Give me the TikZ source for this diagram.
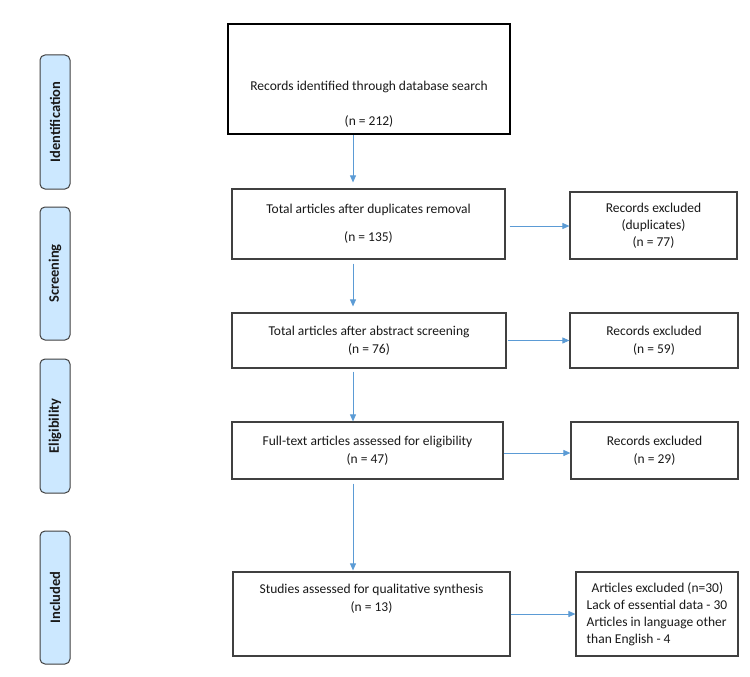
\documentclass[tikz,border=0pt]{standalone}
\usepackage{fontspec}
\setmainfont{Carlito}
\usetikzlibrary{arrows.meta,calc}
\definecolor{arrowblue}{HTML}{5B9BD5}
\definecolor{sidefill}{HTML}{CCE8FF}
\definecolor{boxline}{HTML}{404040}
\begin{document}
\begin{tikzpicture}[x=1pt,y=-1pt,
  box/.style={draw=boxline,line width=1.2pt,align=center,inner sep=0pt,
    font=\fontsize{13.5}{17}\selectfont,text=black!90},
  side/.style={draw=boxline,fill=sidefill,rounded corners=5pt,line width=1pt,
    minimum height=30pt,minimum width=134pt,inner sep=0pt,
    font=\fontsize{14.5}{17}\selectfont\bfseries,rotate=90,text=black!90},
  arr/.style={draw=arrowblue,line width=0.9pt,-{Triangle[length=7pt,width=6pt]}}]
\useasboundingbox (0,0) rectangle (750,677);
\fill[white] (0,0) rectangle (750,677);

% phase labels
\node[side] (idt) at (55,122) {Identification};
\node[side,minimum width=133pt] (scr) at (55,273.5) {Screening};
\node[side] (eli) at (55,426) {Eligibility};
\node[side,minimum width=133pt] (inc) at (55,597.5) {Included};

% main column
\node[box,draw=black,line width=2.2pt,minimum width=282pt,minimum height=110pt] (b1) at (369,79)
  {\rule{0pt}{59pt}Records identified through database search\\[18pt](n = 212)};
\node[box,minimum width=273pt,minimum height=70pt] (b2) at (368.5,224)
  {Total articles after duplicates removal\\[11pt](n = 135)};
\node[box,minimum width=274pt,minimum height=55pt] (b3) at (369,340.5)
  {Total articles after abstract screening\\[1pt](n = 76)};
\node[box,minimum width=271pt,minimum height=57pt] (b4) at (367.5,450.5)
  {Full-text articles assessed for eligibility\\[1pt](n = 47)};
\node[box,minimum width=277pt,minimum height=84pt] (b5) at (371.5,614)
  {Studies assessed for qualitative synthesis\\[1pt](n = 13)\\[15pt]\mbox{}};

% exclusion column
\node[box,minimum width=167pt,minimum height=67pt] (r2) at (653.5,225.5)
  {Records excluded\\(duplicates)\\(n = 77)};
\node[box,minimum width=168pt,minimum height=55pt] (r3) at (654,340.5)
  {Records excluded\\[1pt](n = 59)};
\node[box,minimum width=167pt,minimum height=57pt] (r4) at (654.5,450.5)
  {Records excluded\\[1pt](n = 29)};
\node[box,align=left,minimum width=162pt,minimum height=84pt] (r5) at (657,614)
  {\hspace*{5pt}Articles excluded (n=30)\\Lack of essential data - 30\\Articles in language other\\than English - 4};

% vertical connectors
\draw[arr] ($(b1.south)+(-16,0)$) -- ($(b2.north)+(-15.5,-6)$);
\draw[arr] ($(b2.south)+(-15.5,4)$) -- ($(b3.north)+(-16,-6)$);
\draw[arr] ($(b3.south)+(-16,3)$) -- ($(b4.north)+(-14.5,0)$);
\draw[arr] ($(b4.south)+(-14.5,4)$) -- ($(b5.north)+(-18.5,-1)$);

% horizontal connectors
\draw[arr] ($(b2.east)+(4,2)$) coordinate (s2) -- (s2 -| r2.west);
\draw[arr] ($(b3.east)+(1,0)$) coordinate (s3) -- (s3 -| r3.west);
\draw[arr] ($(b4.east)+(0,2.5)$) coordinate (s4) -- (s4 -| r4.west);
\draw[arr] ($(b5.east)+(0,0)$) coordinate (s5) -- (s5 -| r5.west);
\end{tikzpicture}
\end{document}
